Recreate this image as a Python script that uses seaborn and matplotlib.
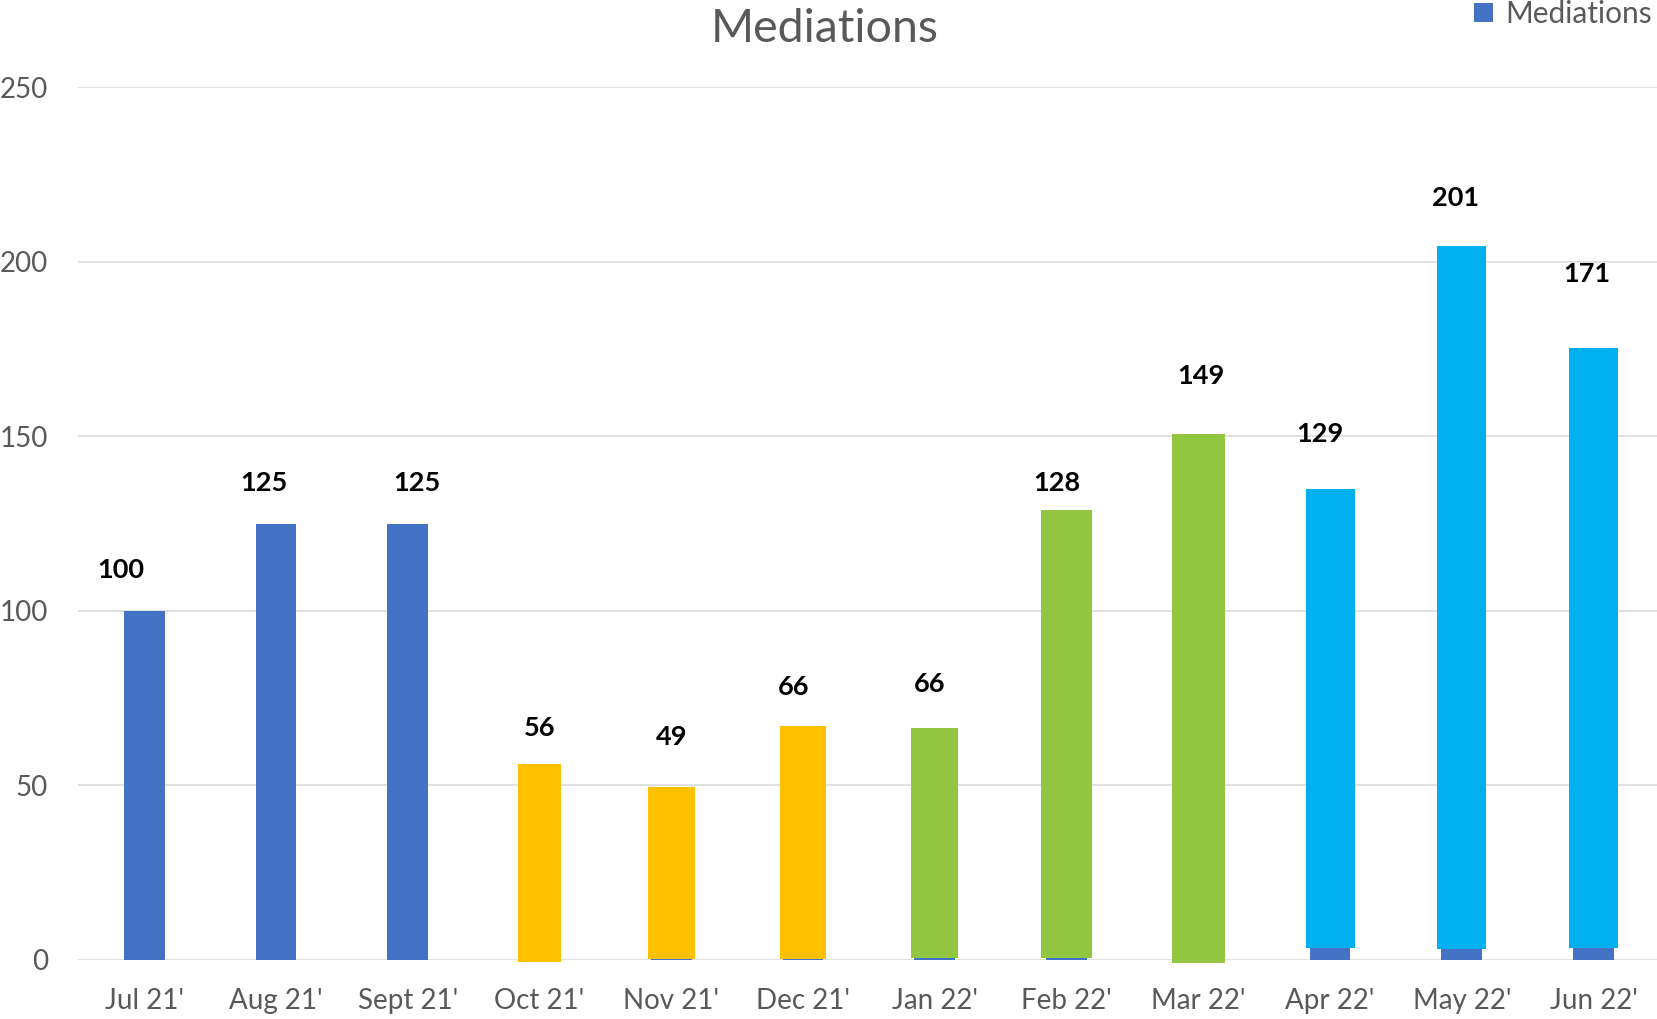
import matplotlib
matplotlib.use("Agg")
import matplotlib.pyplot as plt
from matplotlib.patches import Patch
import seaborn as sns
import pandas as pd

# ---- data ----
months = ["Jul 21'", "Aug 21'", "Sept 21'", "Oct 21'", "Nov 21'", "Dec 21'",
          "Jan 22'", "Feb 22'", "Mar 22'", "Apr 22'", "May 22'", "Jun 22'"]
mediations = [100, 125, 125, 56, 49, 66, 66, 128, 149, 129, 201, 171]

# coloured overlay blocks drawn over the base bars (as seen in the picture)
overlay_top = [None, None, None, 56.1, 49.5, 67.0, 66.4, 129.0, 150.5, 134.8, 204.4, 175.3]
overlay_bottom = [None, None, None, -0.6, 0.3, 0.3, 0.7, 0.7, -0.9, 3.4, 3.2, 3.4]

# ---- styles ----
BLUE = "#4472C4"
YELLOW = "#FFC000"
GREEN = "#92C540"
CYAN = "#00B0F0"
overlay_colors = [None, None, None, YELLOW, YELLOW, YELLOW, GREEN, GREEN, GREEN, CYAN, CYAN, CYAN]
overlay_widths = [None, None, None, 0.326, 0.357, 0.342, 0.357, 0.387, 0.402, 0.372, 0.372, 0.372]
label_pos_x = [-0.18, 0.91, 2.07, 3.0, 4.0, 4.93, 5.96, 6.93, 8.02, 8.92, 9.95, 10.95]
label_pos_y = [111.8, 136.6, 136.6, 66.4, 64.0, 78.2, 79.1, 136.6, 167.2, 150.5, 218.3, 196.5]

sns.set_theme(style="white")
plt.rcParams["font.family"] = ["Lato", "DejaVu Sans"]

df = pd.DataFrame({"Month": months, "Mediations": mediations})

fig = plt.figure(figsize=(16.57, 10.19), dpi=100)
ax = fig.add_axes([78.4 / 1657, 59 / 1019, 1581 / 1657, 873 / 1019])

sns.barplot(data=df, x="Month", y="Mediations", color=BLUE, saturation=1,
            width=0.31, ax=ax, zorder=2, linewidth=0)

for i in range(len(months)):
    if overlay_top[i] is None:
        continue
    ax.bar(i, overlay_top[i] - overlay_bottom[i], bottom=overlay_bottom[i],
           width=overlay_widths[i], color=overlay_colors[i], linewidth=0,
           zorder=3, clip_on=False)

for i, v in enumerate(mediations):
    ax.text(label_pos_x[i], label_pos_y[i], str(v), ha="center", va="center",
            fontsize=19.5, fontweight="bold", color="black", zorder=4)

ax.set_xlim(-0.5, 11.5)
ax.set_ylim(0, 250)
ax.set_yticks([0, 50, 100, 150, 200, 250])
ax.set_xlabel("")
ax.set_ylabel("")
ax.yaxis.grid(True, color="#D9D9D9", linewidth=1.1)
ax.xaxis.grid(False)
ax.set_axisbelow(True)
for s in ax.spines.values():
    s.set_visible(False)
ax.tick_params(axis="x", length=0, pad=20, labelsize=20, labelcolor="#595959")
ax.tick_params(axis="y", length=0, pad=22, labelsize=20, labelcolor="#595959")

fig.text(825 / 1657, 1 - 28.5 / 1019, "Mediations", ha="center", va="center",
         fontsize=33.5, color="#595959")

leg = fig.legend(handles=[Patch(facecolor=BLUE, edgecolor="none", label="Mediations")],
                 loc="center right", bbox_to_anchor=(1652 / 1657, 1 - 14 / 1019),
                 frameon=False, fontsize=21.5, borderpad=0, borderaxespad=0,
                 handlelength=0.65, handleheight=0.65, handletextpad=0.4)
for t in leg.get_texts():
    t.set_color("#595959")

fig.savefig("out.png", dpi=100)
